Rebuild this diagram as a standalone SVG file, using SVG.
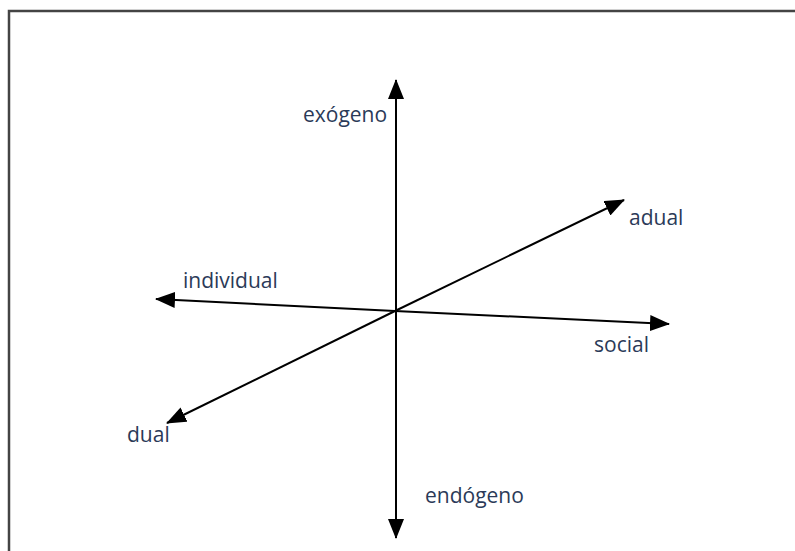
<svg xmlns="http://www.w3.org/2000/svg" width="795" height="551" viewBox="0 0 795 551">
<defs>
<marker id="ah" viewBox="0 0 20 16" refX="19" refY="8" markerWidth="20" markerHeight="16" markerUnits="userSpaceOnUse" orient="auto">
<path d="M0,0 L20,8 L0,16 Z" fill="#000"/>
</marker>
</defs>
<style>
.ax{stroke:#000;stroke-width:2;fill:none;marker-end:url(#ah)}
.lb{font-family:"Open Sans","Liberation Sans",sans-serif;font-size:21px;fill:#2b3a58}
</style>
<rect width="795" height="551" fill="#fff"/>
<rect x="9" y="11" width="800" height="560" fill="none" stroke="#444" stroke-width="2.5"/>
<g id="connectors">
<line class="ax" x1="396" y1="311" x2="396" y2="80"/>
<line class="ax" x1="396" y1="311" x2="396" y2="538"/>
<line class="ax" x1="395" y1="311" x2="156" y2="299"/>
<line class="ax" x1="395" y1="311" x2="669" y2="324"/>
<line class="ax" x1="395" y1="311" x2="624" y2="200"/>
<line class="ax" x1="395" y1="311" x2="167" y2="423"/>
</g>
<g id="exogeno"><text class="lb" x="303" y="122">exógeno</text></g>
<g id="adual"><text class="lb" x="629" y="225">adual</text></g>
<g id="individual"><text class="lb" x="183" y="288">individual</text></g>
<g id="social"><text class="lb" x="594" y="352">social</text></g>
<g id="dual"><text class="lb" x="127" y="442">dual</text></g>
<g id="endogeno"><text class="lb" x="425" y="503">endógeno</text></g>
</svg>
